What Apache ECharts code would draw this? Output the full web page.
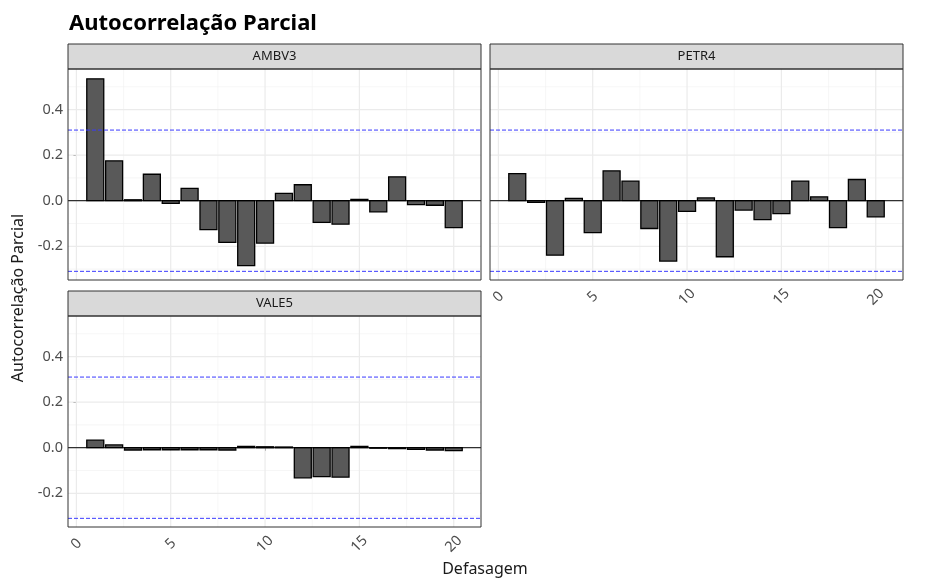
<!DOCTYPE html>
<html>
<head>
<meta charset="utf-8">
<script src="https://cdn.jsdelivr.net/npm/echarts@6/dist/echarts.min.js"></script>
<style>
  html, body { margin: 0; padding: 0; background: #fff; }
  #chart { width: 928px; height: 586px; }
</style>
</head>
<body>
<div id="chart"></div>
<script>
// defasagens (lags)
var lags = [1, 2, 3, 4, 5, 6, 7, 8, 9, 10, 11, 12, 13, 14, 15, 16, 17, 18, 19, 20];

// autocorrelação parcial
var ambv3 = [0.535, 0.175, 0.004, 0.116, -0.012, 0.054, -0.127, -0.183, -0.285, -0.186,
             0.032, 0.070, -0.095, -0.103, 0.006, -0.049, 0.105, -0.017, -0.020, -0.118];
var petr4 = [0.119, -0.007, -0.239, 0.010, -0.140, 0.131, 0.086, -0.122, -0.265, -0.047,
             0.012, -0.246, -0.041, -0.083, -0.057, 0.086, 0.017, -0.118, 0.093, -0.071];
var vale5 = [0.033, 0.012, -0.010, -0.009, -0.009, -0.009, -0.009, -0.010, 0.006, 0.004,
             0.003, -0.132, -0.127, -0.129, 0.006, -0.002, -0.004, -0.007, -0.010, -0.013];

var panelNames = ['AMBV3', 'PETR4', 'VALE5'];

// eixos
var xMin = -0.445, xMax = 21.445;
var yMin = -0.348, yMax = 0.578;
var xTicks = [0, 5, 10, 15, 20];
var xMinor = [2.5, 7.5, 12.5, 17.5];
var yTicks = [-0.2, 0, 0.2, 0.4];
var yMinor = [-0.3, -0.1, 0.1, 0.3, 0.5];
var limite = 0.31; // 1.96 / sqrt(40)

var FONT = 'Noto Sans';
var myChart = echarts.init(document.getElementById('chart'));

var grids = [
  { left: 68, top: 69, width: 413, height: 211 },
  { left: 490, top: 69, width: 413, height: 211 },
  { left: 68, top: 316, width: 413, height: 211 }
];
var showX = [false, true, true];
var showY = [true, false, true];
var seriesData = [ambv3, petr4, vale5];

function renderBar(params, api) {
  var x = api.value(0), v = api.value(1);
  var p0 = api.coord([x - 0.45, 0]);
  var p1 = api.coord([x + 0.45, v]);
  return {
    type: 'rect',
    shape: { x: p0[0], y: Math.min(p0[1], p1[1]), width: p1[0] - p0[0], height: Math.max(Math.abs(p1[1] - p0[1]), 0.5) },
    style: { fill: '#595959', stroke: '#000', lineWidth: 1.3 }
  };
}

// linhas: [eixo(0=x,1=y), valor]
function renderLine(params, api) {
  var dir = api.value(0), v = api.value(1);
  var a = dir === 0 ? api.coord([v, yMin]) : api.coord([xMin, v]);
  var b = dir === 0 ? api.coord([v, yMax]) : api.coord([xMax, v]);
  var item = lineItems[params.seriesIndex][params.dataIndex];
  return {
    type: 'line',
    shape: { x1: a[0], y1: a[1], x2: b[0], y2: b[1] },
    style: { stroke: item.color, lineWidth: item.width, lineDash: item.dash || null }
  };
}

var xAxes = [], yAxes = [], series = [], graphics = [];
var lineItems = {};

function addLines(i, z, items) {
  lineItems[series.length] = items;
  series.push({
    type: 'custom', xAxisIndex: i, yAxisIndex: i, z: z, silent: true, animation: false,
    clip: true,
    renderItem: renderLine,
    data: items.map(function (it) { return [it.dir, it.value]; })
  });
}

grids.forEach(function (g, i) {
  xAxes.push({
    type: 'value', gridIndex: i, min: xMin, max: xMax,
    splitLine: { show: false },
    axisLine: { show: false },
    axisTick: { show: showX[i], length: 3, customValues: xTicks, lineStyle: { color: '#333' } },
    axisLabel: { show: showX[i], customValues: xTicks, rotate: 45, margin: 17,
                 align: 'center', verticalAlign: 'middle',
                 color: '#4d4d4d', fontSize: 14.5, fontFamily: FONT }
  });
  yAxes.push({
    type: 'value', gridIndex: i, min: yMin, max: yMax,
    splitLine: { show: false },
    axisLine: { show: false },
    axisTick: { show: showY[i], length: 3, customValues: yTicks, lineStyle: { color: '#333' } },
    axisLabel: { show: showY[i], customValues: yTicks, margin: 5,
                 formatter: function (v) { return v.toFixed(1); },
                 color: '#4d4d4d', fontSize: 14.5, fontFamily: FONT }
  });

  var gridLines = [];
  xMinor.forEach(function (v) { gridLines.push({ dir: 0, value: v, width: 0.6, color: '#f0f0f0' }); });
  yMinor.forEach(function (v) { gridLines.push({ dir: 1, value: v, width: 0.6, color: '#f0f0f0' }); });
  xTicks.forEach(function (v) { gridLines.push({ dir: 0, value: v, width: 1.2, color: '#ebebeb' }); });
  yTicks.forEach(function (v) { gridLines.push({ dir: 1, value: v, width: 1.2, color: '#ebebeb' }); });
  addLines(i, 1, gridLines);

  series.push({
    type: 'custom', xAxisIndex: i, yAxisIndex: i, z: 2, animation: false,
    renderItem: renderBar,
    data: lags.map(function (l, k) { return [l, seriesData[i][k]]; })
  });

  addLines(i, 3, [
    { dir: 1, value: 0, width: 1, color: '#000' },
    { dir: 1, value: limite, width: 1, color: '#3a3aff', dash: [4, 2] },
    { dir: 1, value: -limite, width: 1, color: '#3a3aff', dash: [4, 2] }
  ]);

  // faixa do painel (strip)
  graphics.push({
    type: 'rect', z: 10,
    shape: { x: g.left, y: g.top - 25, width: g.width, height: 25 },
    style: { fill: '#d9d9d9', stroke: '#333', lineWidth: 1 }
  });
  graphics.push({
    type: 'text', z: 11,
    x: g.left + g.width / 2, y: g.top - 12.5,
    style: { text: panelNames[i], fill: '#1a1a1a', font: '13px "' + FONT + '"', align: 'center', verticalAlign: 'middle' }
  });
  // borda do painel
  graphics.push({
    type: 'rect', z: 10, silent: true,
    shape: { x: g.left, y: g.top, width: g.width, height: g.height },
    style: { fill: null, stroke: '#333', lineWidth: 1 }
  });
});

graphics.push({
  type: 'text', x: 18, y: 298, rotation: Math.PI / 2,
  style: { text: 'Autocorrelação Parcial', fill: '#1a1a1a', font: '16px "' + FONT + '"', align: 'center', verticalAlign: 'middle' }
});
graphics.push({
  type: 'text', x: 485, y: 569,
  style: { text: 'Defasagem', fill: '#1a1a1a', font: '16px "' + FONT + '"', align: 'center', verticalAlign: 'middle' }
});

var options = {
  animation: false,
  backgroundColor: '#fff',
  title: {
    text: 'Autocorrelação Parcial', left: 64, top: 8,
    textStyle: { fontFamily: FONT, fontSize: 22, fontWeight: 'bold', color: '#000' }
  },
  grid: grids.map(function (g) { return { left: g.left, top: g.top, width: g.width, height: g.height, show: false }; }),
  xAxis: xAxes,
  yAxis: yAxes,
  series: series,
  graphic: graphics
};

myChart.setOption(options);
</script>
</body>
</html>
